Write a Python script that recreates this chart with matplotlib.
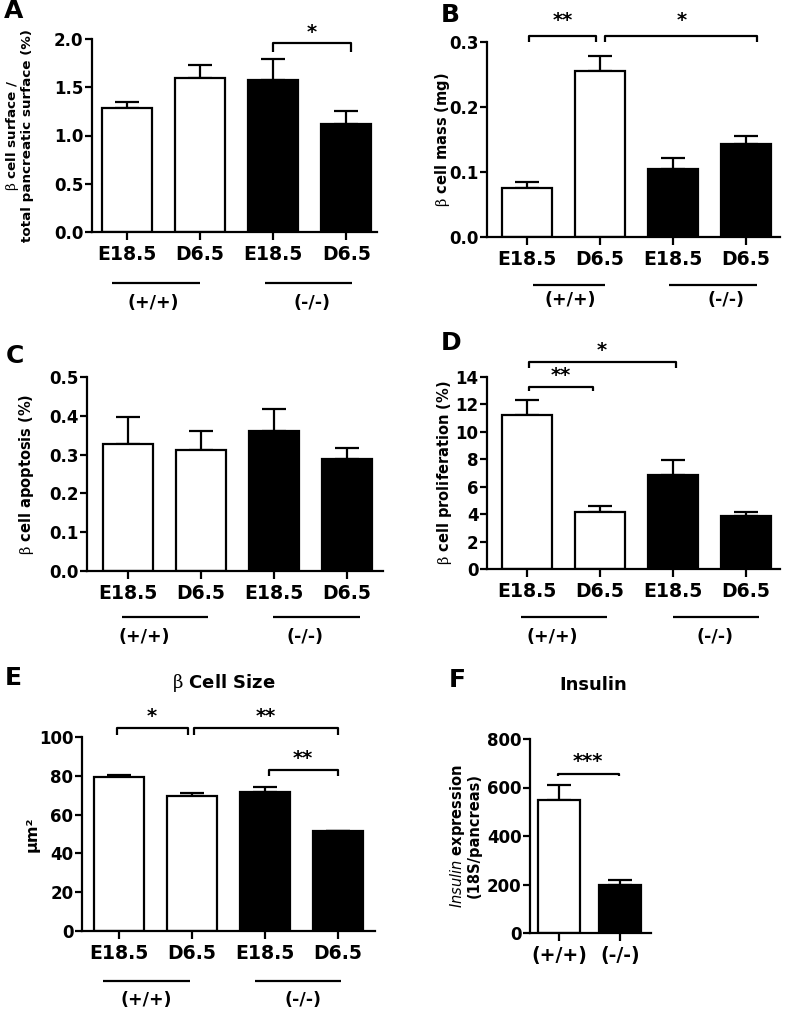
import matplotlib
matplotlib.use("Agg")
import matplotlib.pyplot as plt
from matplotlib.transforms import blended_transform_factory, offset_copy

plt.rcParams['font.family'] = ['DejaVu Sans']
plt.rcParams['mathtext.fontset'] = 'custom'
plt.rcParams['mathtext.rm'] = 'DejaVu Serif:weight=normal'
plt.rcParams['mathtext.it'] = 'DejaVu Sans:italic:weight=normal'
plt.rcParams['mathtext.bf'] = 'DejaVu Sans:bold'

# ---------------- data ----------------
stages = ["E18.5", "D6.5", "E18.5", "D6.5"]
genotypes = ["(+/+)", "(-/-)"]
bar_colors = ["white", "white", "black", "black"]

surface_mean = [1.28, 1.60, 1.58, 1.12]
surface_sem = [0.07, 0.13, 0.21, 0.13]

mass_mean = [0.075, 0.255, 0.105, 0.143]
mass_sem = [0.010, 0.024, 0.017, 0.013]

apoptosis_mean = [0.327, 0.311, 0.360, 0.288]
apoptosis_sem = [0.071, 0.051, 0.058, 0.030]

prolif_mean = [11.25, 4.16, 6.88, 3.84]
prolif_sem = [1.05, 0.41, 1.09, 0.29]

size_mean = [79.2, 69.5, 71.9, 51.3]
size_sem = [1.2, 1.4, 2.3, 0.5]

insulin_mean = [548, 199]
insulin_sem = [64, 21]

sig_A = ["*"]
sig_B = ["**", "*"]
sig_D = ["**", "*"]
sig_E = ["*", "**", "**"]
sig_F = ["***"]

# ---------------- figure ----------------
W, H = 785, 1015
fig = plt.figure(figsize=(W / 100, H / 100), dpi=100)
LW = 1.6


def make_axes(l, t, r, b):
    return fig.add_axes([l / W, 1 - b / H, (r - l) / W, (b - t) / H])


def panel(rect, means, sems, colors, xlim, ylim, yticks, yfmt, ylabel, ylabel_x,
          xticklabels, letter, letter_xy, brackets, sig, groups=None, title=None,
          title_xy=None, ylabel_size=10.5):
    l, t, r, b = rect
    ax = make_axes(l, t, r, b)
    x = list(range(len(means)))
    ax.bar(x, means, width=0.68, color=colors, edgecolor="black", linewidth=LW,
           zorder=2)
    ax.errorbar(x, means, yerr=[[0] * len(sems), sems], fmt="none", ecolor="black",
                elinewidth=LW, capsize=8.5, capthick=LW, zorder=1)
    ax.set_xlim(*xlim)
    ax.set_ylim(*ylim)
    ax.set_yticks(yticks)
    ax.set_yticklabels([yfmt.format(v) for v in yticks], fontsize=12,
                       fontweight="bold")
    ax.set_xticks(x)
    ax.set_xticklabels(xticklabels, fontsize=13.6, fontweight="bold")
    for s in ["top", "right"]:
        ax.spines[s].set_visible(False)
    for s in ["left", "bottom"]:
        ax.spines[s].set_linewidth(LW)
    ax.tick_params(axis="y", length=5, width=LW, pad=1.2)
    ax.tick_params(axis="x", length=5.5, width=LW, pad=4)
    ax.set_ylabel(ylabel, fontsize=ylabel_size, fontweight="bold", va="center",
                  linespacing=1.0)
    ax.yaxis.set_label_coords((ylabel_x - l) / (r - l), 0.5)
    fig.text(letter_xy[0] / W, 1 - letter_xy[1] / H, letter, fontsize=18,
             fontweight="bold", ha="center", va="center")
    if title is not None:
        fig.text(title_xy[0] / W, 1 - title_xy[1] / H, title, fontsize=13,
                 fontweight="bold", ha="center", va="center")
    # significance brackets
    for (x1, x2, ytop, ytip, gap), lab in zip(brackets, sig):
        ax.plot([x1, x1, x2, x2], [ytip, ytop, ytop, ytip], color="black",
                lw=LW, clip_on=False, solid_capstyle="butt")
        tr = offset_copy(ax.transData, fig=fig, x=0, y=gap, units="dots")
        ax.text((x1 + x2) / 2, ytop, lab, transform=tr, ha="center",
                va="baseline", fontsize=14, fontweight="bold")
    # genotype group lines and labels
    if groups is not None:
        ah = b - t
        bt = blended_transform_factory(ax.transData, ax.transAxes)
        (line_off, lines, lab_off, lab_x) = groups
        for (gx1, gx2), lx, g in zip(lines, lab_x, genotypes):
            ax.plot([gx1, gx2], [-line_off / ah, -line_off / ah], color="black",
                    lw=LW, transform=bt, clip_on=False, solid_capstyle="butt")
            ax.text(lx, -lab_off / ah, g, transform=bt, ha="center", va="center",
                    fontsize=12.5, fontweight="bold")
    return ax


beta = r"$\mathrm{\beta}$"

# A
panel((92, 39, 377, 232), surface_mean, surface_sem, bar_colors,
      (-0.48, 3.42), (0, 2.0), [0, 0.5, 1.0, 1.5, 2.0], "{:.1f}",
      beta + " cell surface /\ntotal pancreatic surface (%)", 19,
      stages, "A", (14, 11),
      [(1.99, 3.07, 1.955, 1.87, 5)], sig_A,
      groups=(51, [(-0.2, 1.0), (1.89, 3.08)], 71, [0.36, 2.53]),
      ylabel_size=9.7)

# B
panel((487, 42, 780, 237), mass_mean, mass_sem, bar_colors,
      (-0.55, 3.47), (0, 0.3), [0, 0.1, 0.2, 0.3], "{:.1f}",
      beta + " cell mass (mg)", 442,
      stages, "B", (450, 15),
      [(0.03, 0.95, 0.3098, 0.2995, 10), (1.07, 3.16, 0.3098, 0.2995, 10)], sig_B,
      groups=(48, [(0.08, 1.07), (1.95, 3.15)], 63, [0.59, 2.73]))

# C
panel((87, 377, 383, 571), apoptosis_mean, apoptosis_sem, bar_colors,
      (-0.56, 3.49), (0, 0.5), [0, 0.1, 0.2, 0.3, 0.4, 0.5], "{:.1f}",
      beta + " cell apoptosis (%)", 27,
      stages, "C", (15, 356),
      [], [],
      groups=(46, [(-0.08, 1.1), (1.99, 3.18)], 66, [0.23, 2.42]))

# D
panel((487, 377, 780, 569), prolif_mean, prolif_sem, bar_colors,
      (-0.55, 3.47), (0, 14), [0, 2, 4, 6, 8, 10, 12, 14], "{:d}",
      beta + " cell proliferation (%)", 444,
      stages, "D", (451, 343),
      [(0.02, 0.9, 13.27, 12.96, 6), (0.02, 2.04, 15.09, 14.66, 6)], sig_D,
      groups=(48, [(-0.08, 1.1), (2.0, 3.18)], 68, [0.35, 2.58]))

# E
panel((82, 737, 375, 931), size_mean, size_sem, bar_colors,
      (-0.507, 3.51), (0, 100), [0, 20, 40, 60, 80, 100], "{:d}",
      "µm²", 32,
      stages, "E", (13, 678),
      [(-0.03, 0.94, 104.6, 101.2, 6), (1.03, 3.0, 104.6, 101.2, 6),
       (2.05, 3.0, 82.8, 79.7, 6)], sig_E,
      groups=(50, [(-0.22, 0.97), (1.86, 3.05)], 69, [0.38, 2.52]),
      title=beta + " Cell Size", title_xy=(224, 683), ylabel_size=11.5)

# F
panel((530, 739, 651, 933), insulin_mean, insulin_sem, ["white", "black"],
      (-0.475, 1.51), (0, 800), [0, 200, 400, 600, 800], "{:d}",
      r"$\mathit{Insulin}$ expression" + "\n(18S/pancreas)", 465,
      genotypes, "F", (457, 680),
      [(-0.02, 0.98, 657, 646, 7)], sig_F,
      title="Insulin", title_xy=(593, 685))

fig.savefig("out.png", dpi=100)
